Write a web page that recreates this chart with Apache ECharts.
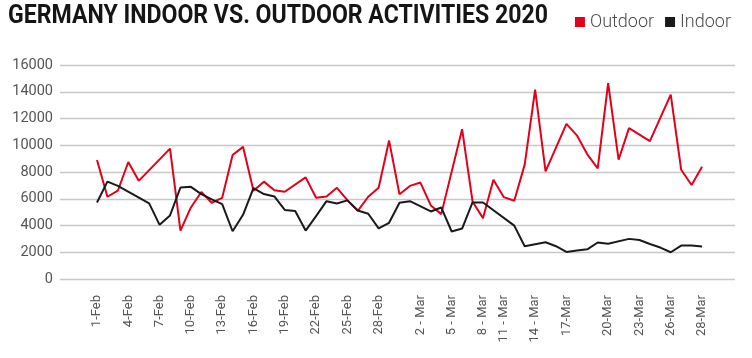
<!DOCTYPE html>
<html>
<head>
<meta charset="utf-8">
<script src="https://cdn.jsdelivr.net/npm/echarts@6/dist/echarts.min.js"></script>
<style>html,body{margin:0;padding:0;background:#fff}#c{width:752px;height:358px}</style>
</head>
<body>
<div id="c"></div>
<script>
// ---- data (one value per day, 1 Feb 2020 ... 30 Mar 2020; null = no point) ----
const titleText = 'GERMANY INDOOR VS. OUTDOOR ACTIVITIES 2020';
const seriesNames = ['Outdoor', 'Indoor'];
const outdoor = [8900,6150,6600,8750,7340,null,null,9750,3620,5350,
  6500,5700,6070,9270,9880,6600,7280,6640,6520,null,
  7600,6080,6170,6820,5900,5100,6150,6820,10350,6330,
  6960,7210,5500,4850,null,11200,5800,4550,7420,6120,
  5850,8550,14150,8050,null,11600,10740,9320,8270,14650,
  8920,11280,null,10310,null,13780,8170,7030,8390];
const indoor = [5720,7280,6960,null,null,5650,4050,4750,6840,6890,
  6350,5950,5600,3570,4800,6800,6350,6170,5160,5080,
  3620,4700,5820,5650,5880,5120,4880,3780,4200,5700,
  5820,null,5050,5350,3550,3770,5720,5720,null,null,
  3990,2450,2600,2750,2450,2020,2130,2220,2730,2630,
  null,3000,2920,2620,2350,2000,2500,2500,2430];
const tickLabels = ['1-Feb','4-Feb','7-Feb','10-Feb','13-Feb','16-Feb','19-Feb','22-Feb','25-Feb','28-Feb',
  '2 - Mar','5 - Mar','8 - Mar','11 - Mar','14 - Mar','17-Mar','20-Mar','23-Mar','26-Mar','28-Mar'];
const tickIdx = [0,3,6,9,12,15,18,21,24,27,31,34,37,39,42,45,49,52,55,58];
const yTicks = [0,2000,4000,6000,8000,10000,12000,14000,16000];

const toPairs = arr => arr.map((v, i) => [i, v]).filter(p => p[1] !== null);

const FONT = 'Roboto, "Noto Sans", sans-serif';
const ctx = document.createElement('canvas').getContext('2d');
ctx.font = 'bold 25px Roboto';
const titleScale = 540 / ctx.measureText(titleText).width;

const chart = echarts.init(document.getElementById('c'), null, {renderer: 'canvas'});
chart.setOption({
  animation: false,
  backgroundColor: '#fff',
  graphic: [{
    type: 'text', x: 8, y: 4, scaleX: titleScale,
    style: {text: titleText, fontFamily: 'Roboto', fontWeight: 'bold', fontSize: 25, fill: '#151515', verticalAlign: 'top'}
  }],
  legend: {
    right: 16, top: 8, icon: 'rect', itemWidth: 10, itemHeight: 10, itemGap: 11,
    data: seriesNames,
    textStyle: {color: '#4a4a4a', fontSize: 18, fontFamily: FONT, fontWeight: 300}
  },
  grid: {left: 60, right: 17, top: 65, bottom: 79, containLabel: false},
  xAxis: {
    type: 'value', min: -3.547, max: 61.16,
    axisLine: {show: false}, axisTick: {show: false}, splitLine: {show: false},
    axisLabel: {
      customValues: tickIdx, rotate: 90, margin: 16, color: '#555', fontSize: 13, fontFamily: FONT,
      formatter: v => tickLabels[tickIdx.indexOf(v)]
    }
  },
  yAxis: {
    type: 'value', min: yTicks[0], max: yTicks[yTicks.length - 1], interval: 2000,
    axisLine: {show: false}, axisTick: {show: false},
    splitLine: {lineStyle: {color: '#c8c8c8', width: 1.4}},
    axisLabel: {color: '#555', fontSize: 14.5, fontFamily: FONT, margin: 7, formatter: v => String(v)}
  },
  series: [
    {name: seriesNames[0], type: 'line', data: toPairs(outdoor), showSymbol: false, symbol: 'none',
     color: '#e2001a', lineStyle: {color: '#e2001a', width: 2}},
    {name: seriesNames[1], type: 'line', data: toPairs(indoor), showSymbol: false, symbol: 'none',
     color: '#1a1a1a', lineStyle: {color: '#1a1a1a', width: 2}}
  ]
});
</script>
</body>
</html>
